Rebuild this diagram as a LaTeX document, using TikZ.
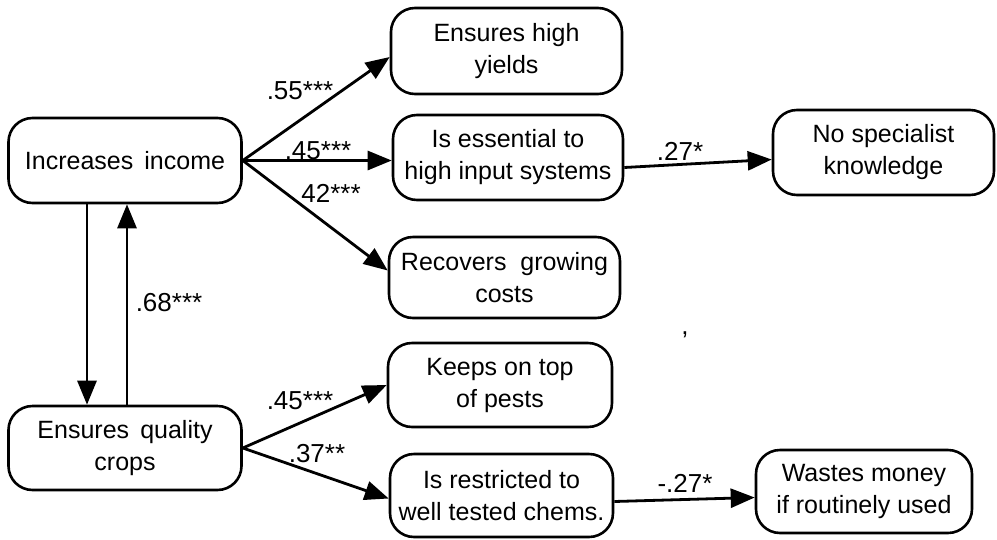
\documentclass[tikz,border=0pt]{standalone}
\usepackage{fontspec}
\setmainfont{Liberation Sans}
\usetikzlibrary{arrows.meta}
\begin{document}
\begin{tikzpicture}[x=1pt,y=-1pt,
 box/.style={draw, line width=2.6pt, rounded corners=24pt, align=center, inner sep=0pt,
   font=\fontsize{25}{32}\selectfont},
 arr/.style={line width=2.8pt, -{Triangle[length=24pt,width=19pt]}},
 lab/.style={font=\fontsize{26}{30}\selectfont, inner sep=0pt}]
\useasboundingbox (0,0) rectangle (997,539);
% nodes
\node[box, minimum width=233pt, minimum height=85pt] (inc) at (125,160.5) {Increases \,income};
\node[box, minimum width=233pt, minimum height=84pt] (eq) at (125,448) {Ensures \,quality\\crops};
\node[box, minimum width=231pt, minimum height=86pt] (hy) at (506.5,51) {Ensures high\\yields};
\node[box, minimum width=230pt, minimum height=85pt] (ess) at (508,157.5) {Is essential to\\high input systems};
\node[box, minimum width=231pt, minimum height=81pt] (rec) at (504.5,277.5) {Recovers \ growing\\costs};
\node[box, minimum width=224pt, minimum height=84pt] (kp) at (500,385) {Keeps on top\\of pests};
\node[box, minimum width=223pt, minimum height=83pt] (rst) at (501.5,495.5) {Is restricted to\\well tested chems.};
\node[box, minimum width=221pt, minimum height=85pt] (nsk) at (883.5,152.5) {No specialist\\knowledge};
\node[box, minimum width=216pt, minimum height=83pt] (wm) at (864,491.5) {Wastes money\\if routinely used};
% connectors
\draw[arr] (inc.east) -- ([yshift=-6pt]hy.west);
\draw[arr] (inc.east) -- ([yshift=-3pt]ess.west);
\draw[arr] (inc.east) -- ([yshift=7pt]rec.west);
\draw[arr] ([xshift=-38pt]inc.south) -- ([xshift=-38pt]eq.north);
\draw[arr] ([xshift=2pt]eq.north) -- ([xshift=2pt]inc.south);
\draw[arr] (eq.east) -- (kp.west);
\draw[arr] (eq.east) -- ([yshift=-3pt]rst.west);
\draw[arr] ([yshift=-10pt]ess.east) -- ([yshift=-7pt]nsk.west);
\draw[arr] ([yshift=-6pt]rst.east) -- ([yshift=-6pt]wm.west);
% labels
\node[lab] (l1) at (300,91) {.55***};
\node[lab] (l2) at (318,151) {.45***};
\node[lab] (l3) at (331,193) {42***};
\node[lab] (l4) at (680,151) {.27*};
\node[lab] (l5) at (169,303) {.68***};
\node[lab] (l6) at (300,401) {.45***};
\node[lab] (l7) at (317,454) {.37**};
\node[lab] (l8) at (685,483) {-.27*};
\node[lab] (cm) at (685,335) {,};
\end{tikzpicture}
\end{document}
